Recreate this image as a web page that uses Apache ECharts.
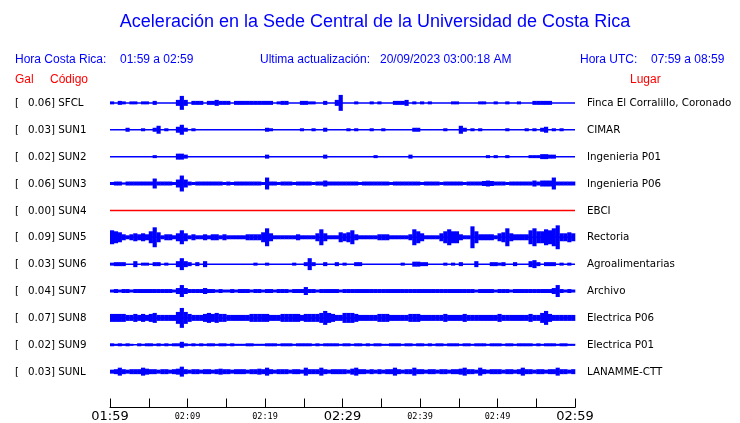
<!DOCTYPE html>
<html>
<head>
<meta charset="utf-8">
<script src="https://cdn.jsdelivr.net/npm/echarts@6/dist/echarts.min.js"></script>
<style>
html,body{margin:0;padding:0;background:#fff;}
#c{width:740px;height:423px;}
</style>
</head>
<body>
<div id="c"></div>
<script>
// ---- data ----
const codes = ['SFCL','SUN1','SUN2','SUN3','SUN4','SUN5','SUN6','SUN7','SUN8','SUN9','SUNL'];
const galValues = ['0.06','0.03','0.02','0.06','0.00','0.09','0.03','0.04','0.07','0.02','0.03'];
const places = ['Finca El Corralillo, Coronado','CIMAR','Ingenieria P01','Ingenieria P06','EBCI','Rectoria','Agroalimentarias','Archivo','Electrica P06','Electrica P01','LANAMME-CTT'];
const tickLabels = ['01:59','02:09','02:19','02:29','02:39','02:49','02:59'];
const bigTickLabels = ['01:59','02:29','02:59'];
// envelope (half amplitude, 27 units = one trace spacing), one value per 30 s from 01:59
const ampSFCL = [1.5,0,2,1.5,0,1.5,1.5,0,1.5,1.5, 0,2,0,0,0,0,0,3,7,3, 0,2,2,2,0,2,2,3,2,2, 2,0,2,2,2,2,2,2,2,2,
  2,2,0,1.5,2,2,0,0,0,2, 2,1.5,1.5,0,0,2,0,0,3,8, 0,0,0,1.5,0,0,0,1.5,0,1.5, 0,0,0,2,2,2,3,0,1.5,0,
  1.5,0,1.5,0,0,0,0,0,1.5,1.5, 0,0,0,0,0,1.5,1.5,0,0,1.5, 0,0,1.5,0,0,1.5,0,0,0,2, 2,2,2,2,0,0,0,0,0,0];
const ampSUN1 = [0,0,0,0,2,0,0,0,1.5,0, 0,2,4,0,1.5,0,0,3,5,2, 0,1.5,0,0,0,0,0,0,0,0, 0,0,0,0,0,0,0,0,0,0,
  2,1.5,0,0,0,0,0,0,0,1.5, 0,0,1.5,0,0,2,0,0,0,0, 0,1.5,0,1.5,0,0,0,1.5,0,0, 1.5,0,0,0,0,0,0,0,2,2,
  0,0,0,0,0,0,1.5,0,0,0, 4,2,0,1.5,0,1.5,0,0,0,0, 0,0,1.5,0,0,0,0,1.5,0,1.5, 0,2,3,0,1.5,0,1.5,0,0,0];
const ampSUN2 = [0,0,0,0,0,0,0,0,0,0, 0,1.5,0,0,0,0,0,3,3,2, 0,0,0,0,0,0,0,0,0,0, 0,0,0,0,0,0,0,0,0,0,
  2,0,0,0,0,0,0,0,0,0, 0,0,0,0,0,2,0,0,0,0, 0,0,0,0,0,0,0,0,1.5,0, 0,0,0,0,0,0,0,2,0,0,
  0,0,0,0,0,0,0,0,0,0, 0,0,0,0,0,0,0,1.5,0,1.5, 0,0,1.5,0,0,0,0,0,1.5,1.5, 1.5,2.5,2.5,2,2,0,0,0,0,0];
const ampSUN3 = [1.5,2,2,1,2,2,2,2,2,2, 2,5,2,2,2,2,1.5,4,8,4, 2,1.5,2,2,2,2,2,2,2,1.5, 2,1.5,2,2,2,2,2,2,2,1.5,
  6,2,2,1.5,2,2,2,1.5,2,2, 2,2,1.5,2,2,3,2,2,2,2, 2,2,2,2,1.5,2,2,2,2,2, 2,2,1.5,2,2,2,2,2,2,2,
  1.5,2,2,2,2,1.5,2,2,2,2, 2,1.5,2,2,2,2,2.5,3,2.5,2, 2,2,1.5,2,2,2,2,2,2,3, 2,3,3,3,6,2,2,2,2,2];
const ampSUN4 = [0,0,0,0,0,0,0,0,0,0, 0,0,0,0,0,0,0,0,0,0, 0,0,0,0,0,0,0,0,0,0, 0,0,0,0,0,0,0,0,0,0,
  0,0,0,0,0,0,0,0,0,0, 0,0,0,0,0,0,0,0,0,0, 0,0,0,0,0,0,0,0,0,0, 0,0,0,0,0,0,0,0,0,0,
  0,0,0,0,0,0,0,0,0,0, 0,0,0,0,0,0,0,0,0,0, 0,0,0,0,0,0,0,0,0,0, 0,0,0,0,0,0,0,0,0,0];
const ampSUN5 = [7,6,5,3,2,3,4,3,4,3, 6,10,5,2,3,3,2,4,7,4, 2,3,2,2,3,2,3,3,2,3, 2,2,2,2,2,3,3,3,3,5,
  9,4,2,2,2,2,2,2,3,2, 2,2,2,4,8,4,2,2,2,5, 4,5,7,3,2,2,2,2,2,3, 3,3,2,2,2,2,2,3,8,6,
  4,2,2,2,2,4,6,8,6,6, 3,2,2,11,6,3,3,3,3,2, 4,5,9,4,3,3,3,3,7,9, 6,6,8,7,9,12,4,4,5,4];
const ampSUN6 = [1.5,2,2,2,0,0,3,0,1.5,1.5, 0,2,2,0,1.5,0,0,3,6,3, 2,0,2,0,3,0,0,0,0,0, 0,0,0,0,0,0,0,1.5,0,0,
  1.5,0,0,0,0,0,0,1.5,0,0, 2,6,2,0,0,2,0,0,2,0, 1.5,0,0,2,2,0,0,0,0,0, 0,0,0,0,0,1.5,0,0,2.5,2.5,
  2,2,0,0,0,0,1.5,0,1.5,0, 2,0,0,0,3,0,0,0,2,2, 1.5,2,0,0,2,0,0,0,3,4, 2,0,2,2,2,0,1.5,0,1.5,0];
const ampSUN7 = [1.5,2,1.5,2,2,1.5,2,2,2,2, 2,2,2,2,2,2,1.5,3,6,3, 2,2,2,2,3,2,2,1.5,2,1.5, 1.5,2,1.5,2,2,2,1.5,2,2,1.5,
  2,2,1.5,2,2,2,1.5,2,2,2, 4,2,2,1.5,2,2,2,2,2,1.5, 2,2,2,2,2,2,2,2,2,2, 2,2,2,2,2,2,2,2,2,2,
  2,2,2,2,2,2,2,2,2,2, 2,2,2,2,1.5,2,2,2,2,1.5, 2,2,2,1.5,2,2,2,2,2,2, 2,2,2,2,3,6,2,1.5,2,1.5];
const ampSUN8 = [4,4,4,4,3,3,4,3,4,3, 4,5,3,3,3,3,3,6,10,6, 4,3,3,3,4,5,4,5,4,4, 3,3,3,3,3,3,4,4,4,4,
  4,3,3,3,4,4,4,4,4,3, 4,4,4,4,5,7,5,4,3,3, 5,5,5,4,3,3,3,3,3,4, 4,4,3,3,3,3,3,4,4,4,
  3,3,3,3,3,3,4,3,3,3, 3,4,3,3,3,3,3,3,3,3, 4,3,3,3,3,3,3,3,4,3, 3,5,7,4,3,3,3,3,3,3];
const ampSUN9 = [1.5,1,1.5,1,1.5,1,0,1.5,1,1.5, 1.5,1,1.5,1,1.5,1,1.5,1.5,3,1.5, 1,1.5,1,1.5,1,1.5,1.5,1,1.5,1.5, 1,1.5,1,1,1,1.5,1.5,1,1,1,
  1.5,1.5,1.5,1,1.5,1.5,1.5,1,1.5,1.5, 1.5,1.5,1,1.5,1,1.5,1.5,1.5,1.5,1, 1.5,1.5,1,1.5,1.5,1,1.5,1,1.5,1.5, 1,1,1.5,1.5,1.5,1,1.5,1.5,1,1.5,
  1.5,1,1.5,1,1.5,1.5,1,1.5,1.5,1.5, 1,1.5,1.5,1,1.5,1.5,1.5,1,1.5,1.5, 1.5,1,1.5,1.5,1,1.5,1.5,1.5,1.5,1, 1.5,1,1.5,1.5,1.5,1,1.5,1.5,1,1];
const ampSUNL = [2,2.5,4,2.5,2,2.5,2.5,2.5,4,3, 2.5,2.5,2,2.5,2.5,2,2.5,3,5,2.5, 2,2.5,2.5,2,2.5,2.5,2,2.5,3,2.5, 2.5,2,2.5,2.5,2.5,2,2.5,2.5,3,2.5,
  4,2.5,2,2.5,2.5,2.5,2,2.5,2.5,2, 4,2.5,2.5,2.5,4,2.5,2,2.5,2.5,2.5, 2.5,2,3,4,2.5,2.5,2,2.5,2,2.5, 2,2.5,2.5,4,2.5,2,2.5,2.5,4,2.5,
  2.5,2,2.5,2.5,2,2.5,2.5,2,2.5,2.5, 3,4,2.5,2.5,2,4,2.5,2,2.5,2.5, 2.5,2,2.5,2.5,2,2.5,4,2.5,2.5,2, 2.5,2.5,2,2.5,2.5,4,2.5,2.5,2,2.5];
const amplitudes = [ampSFCL,ampSUN1,ampSUN2,ampSUN3,ampSUN4,ampSUN5,ampSUN6,ampSUN7,ampSUN8,ampSUN9,ampSUNL];
const deadStations = ['SUN4'];

// ---- chart ----
const BIN = 0.5;            // minutes per envelope sample
const STEP = 3;             // y-axis units between traces
const AMP_PER_STEP = 27;    // amplitude units per trace spacing
const BLUE = '#0000ff';
const RED = '#ff0000';
const chart = echarts.init(document.getElementById('c'), null, {renderer:'canvas'});

const series = [];
codes.forEach((code, k) => {
  const col = deadStations.includes(code) ? RED : BLUE;
  const yk = k * STEP;
  series.push({
    type: 'line', data: [[0, yk], [60, yk]], symbol: 'none', silent: true,
    lineStyle: {color: col, width: 1.5}, animation: false, z: 2
  });
  series.push({
    type: 'custom', silent: true, animation: false, z: 3,
    data: amplitudes[k].map((a, i) => [i * BIN, yk, a]),
    encode: {x: 0, y: 1},
    renderItem: function (params, api) {
      const t = api.value(0), yy = api.value(1), a = api.value(2);
      if (!a) return null;
      const p0 = api.coord([t, yy]);
      const p1 = api.coord([t + BIN, yy]);
      const h = api.size([0, a * STEP / AMP_PER_STEP])[1];
      return {type: 'rect', shape: {x: p0[0], y: p0[1] - h, width: p1[0] - p0[0] + 0.3, height: 2 * h},
        style: {fill: col}};
    }
  });
});

const option = {
  animation: false,
  backgroundColor: '#fff',
  grid: {left: 110, right: 165, top: 76, bottom: 14},
  xAxis: {
    type: 'value', min: 0, max: 60, interval: 5,
    axisLine: {show: true, onZero: false, lineStyle: {color: '#000', width: 1}},
    axisTick: {show: true, inside: true, length: 9, lineStyle: {color: '#000', width: 1}},
    splitLine: {show: false},
    axisLabel: {
      margin: 2, showMinLabel: true, showMaxLabel: true,
      formatter: function (v) {
        if (v % 10 !== 0) return '';
        const lab = tickLabels[v / 10];
        return bigTickLabels.includes(lab) ? '{b|' + lab + '}' : '{s|' + lab + '}';
      },
      rich: {
        b: {fontFamily: 'DejaVu Sans', fontSize: 13, color: '#000', lineHeight: 14, letterSpacing: 1},
        s: {fontFamily: 'DejaVu Sans Mono', fontSize: 8.5, color: '#000', lineHeight: 14}
      }
    }
  },
  yAxis: {type: 'value', inverse: true, min: -3, max: 34, show: false},
  series: series
};
chart.setOption(option);

// ---- text ----
const g = [];
const txt = (x, y, text, opts) => g.push(Object.assign({type: 'text', x: x, y: y, silent: true,
  style: Object.assign({text: text, fill: BLUE, font: '12px "Liberation Sans", Arial, sans-serif', textVerticalAlign: 'middle'}, opts || {})}));
txt(375, 22, 'Aceleración en la Sede Central de la Universidad de Costa Rica', {font: '18px "Liberation Sans", Arial, sans-serif', textAlign: 'center'});
txt(15, 60, 'Hora Costa Rica:');
txt(120, 60, '01:59 a 02:59');
txt(260, 60, 'Ultima actualización:');
txt(380, 60, '20/09/2023 03:00:18 AM');
txt(580, 60, 'Hora UTC:');
txt(651, 60, '07:59 a 08:59');
txt(15, 80, 'Gal', {fill: RED});
txt(50, 80, 'Código', {fill: RED});
txt(630, 80, 'Lugar', {fill: RED});
codes.forEach((code, k) => {
  const y = chart.convertToPixel({gridIndex: 0}, [0, k * STEP])[1] + 0.5;
  const f = '10.3px "DejaVu Sans", sans-serif';
  txt(15, y, '[', {fill: '#000', font: f});
  txt(28, y, galValues[k] + '] ' + code, {fill: '#000', font: f});
  txt(587, y, places[k], {fill: '#000', font: f});
});
chart.setOption({graphic: g});
</script>
</body>
</html>
